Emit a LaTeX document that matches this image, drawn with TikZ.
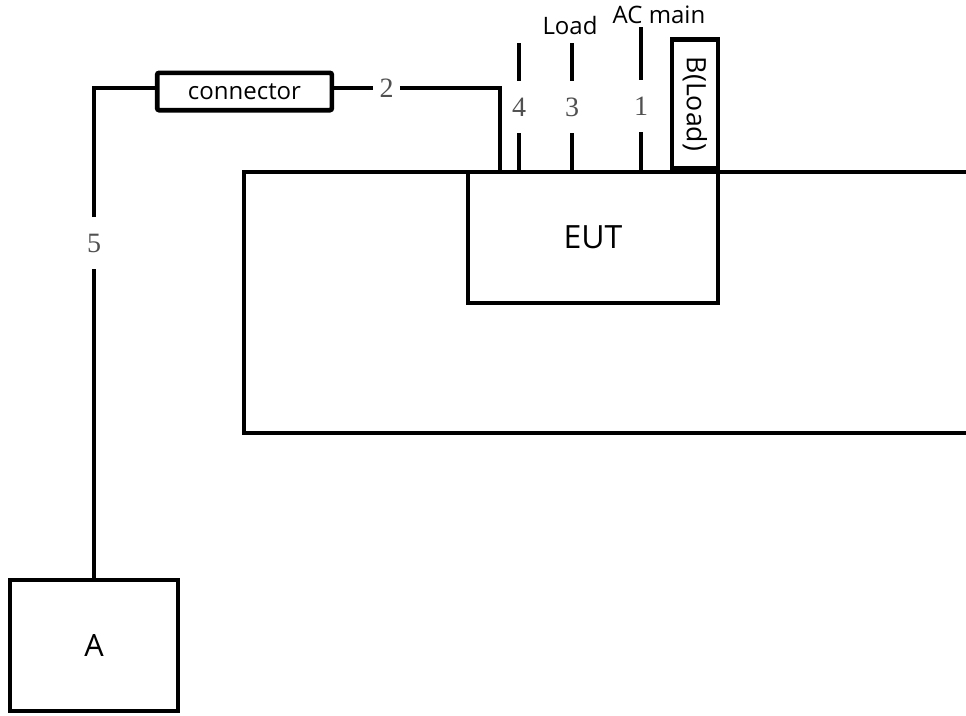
\documentclass[tikz,border=0pt]{standalone}
\usepackage{fontspec}
\setmainfont{Open Sans}
\newfontfamily\numfont{Liberation Serif}
\usetikzlibrary{positioning}
\definecolor{numgray}{HTML}{505050}

\tikzset{
  wire/.style={line width=3.5pt},
  unit/.style={draw, line width=3.5pt, inner sep=0pt, outer sep=0pt, fill=white},
  numlabel/.style={inner sep=0pt, outer sep=0pt, minimum width=20pt, minimum height=39pt,
    text=numgray, font=\numfont\fontsize{21pt}{23pt}\selectfont},
  tag/.style={inner sep=0pt, font=\fontsize{18pt}{20pt}\selectfont}
}

\begin{document}
\begin{tikzpicture}[x=0.75pt, y=-0.75pt]
\useasboundingbox (0,0) rectangle (966,715);

% test table outline (runs off the right edge)
\draw[wire] (966,172) -- (244,172) -- (244,433) -- (966,433);

% units
\node[unit, minimum width=187.5pt, minimum height=98.25pt, font=\fontsize{24pt}{26pt}\selectfont] (eut) at (593,237.5) {EUT};
\node[unit, minimum width=126pt, minimum height=98.25pt, font=\fontsize{23pt}{25pt}\selectfont] (boxa) at (94,645.5) {A};
\node[unit, minimum width=131pt, minimum height=28pt, rounded corners=1.5pt, tag] (conn) at (244.5,91.5) {connector};
\node[unit, rotate=-90, minimum width=97pt, minimum height=34.5pt, tag, font=\fontsize{20pt}{22pt}\selectfont] (bload) at (695,104) {B(Load)};

% cable labels
\node[numlabel] (n5) at (94,243) {5};
\node[numlabel] (n2) at (386.5,88) {2};
\node[numlabel] (n4) at (519,107) {4};
\node[numlabel] (n3) at (572,107) {3};
\node[numlabel] (n1) at (641,106) {1};

% free cable ends
\coordinate (t4) at (519,43);
\coordinate (t3) at (572,43);
\coordinate (t1) at (641,27);
\coordinate (j2) at (500,172);

\node[tag] (load) at (570,25) {Load};
\node[tag] (acmain) at (659,15) {AC main};

% cable 5: A to connector
\draw[wire] (boxa.north) -- (n5);
\draw[wire] (n5) -- (n5 |- n2) -- (n2 -| conn.west);

% cable 2: connector to table
\draw[wire] (n2 -| conn.east) -- (n2);
\draw[wire] (n2) -| (j2);

% cables 4, 3, 1
\foreach \c in {4,3,1} {
  \draw[wire] (t\c) -- (n\c);
  \draw[wire] (n\c) -- (n\c |- eut.north);
}

\end{tikzpicture}
\end{document}
